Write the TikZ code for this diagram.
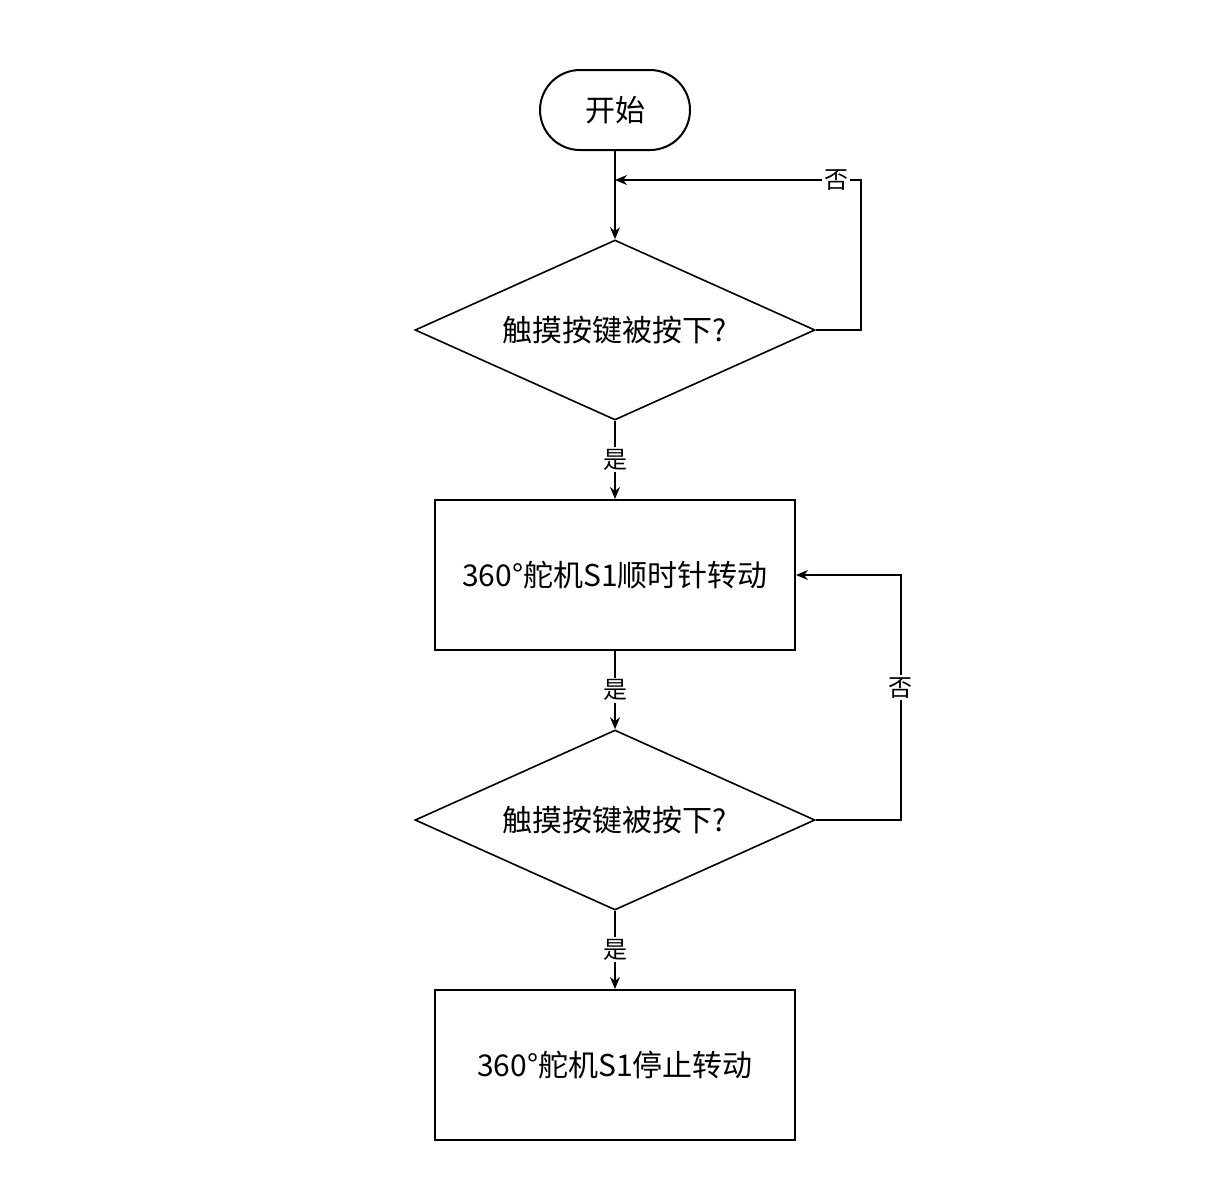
\documentclass[tikz,border=0pt]{standalone}
\usepackage{fontspec}
\setmainfont{Noto Sans CJK SC}
\usetikzlibrary{shapes.geometric,arrows.meta}

\tikzset{
  startstop/.style={draw, line width=1pt, rounded corners=20pt, minimum width=75pt, minimum height=40pt, font=\fontsize{15}{18}\selectfont},
  decision/.style={draw, line width=0.8pt, diamond, aspect=2.22, inner sep=0pt, minimum width=200pt, minimum height=90pt, font=\fontsize{15}{18}\selectfont},
  process/.style={draw, line width=1pt, minimum width=180pt, minimum height=75pt, inner sep=0pt, font=\fontsize{15}{18}\selectfont},
  flow/.style={line width=0.8pt, -{Stealth[length=6pt,width=5pt]}},
  lbl/.style={fill=white, inner sep=1pt, font=\fontsize{12}{14}\selectfont},
}

\begin{document}
\begin{tikzpicture}[x=0.5pt, y=-0.5pt]
  \path[use as bounding box] (0,0) rectangle (1230,1196);

  % blocks
  \node[startstop] (start) at (615,110) {开始};
  \node[decision] (check1) at (615,330) {触摸按键被按下?};
  \node[process] (turn) at (615,575) {360°舵机S1顺时针转动};
  \node[decision] (check2) at (615,820) {触摸按键被按下?};
  \node[process] (stop) at (615,1065) {360°舵机S1停止转动};

  \coordinate (join1) at (615,180);

  % arrows
  \draw[flow] (start) -- (check1);
  \draw[flow] (check1.east) -- ++(45,0) |- node[lbl, pos=0.55] {否} (join1);
  \draw[flow] (check1) -- node[lbl] {是} (turn);
  \draw[flow] (turn) -- node[lbl] {是} (check2);
  \draw[flow] (check2.east) -- ++(85,0) |- node[lbl, pos=0.27] {否} (turn.east);
  \draw[flow] (check2) -- node[lbl] {是} (stop);
\end{tikzpicture}
\end{document}
